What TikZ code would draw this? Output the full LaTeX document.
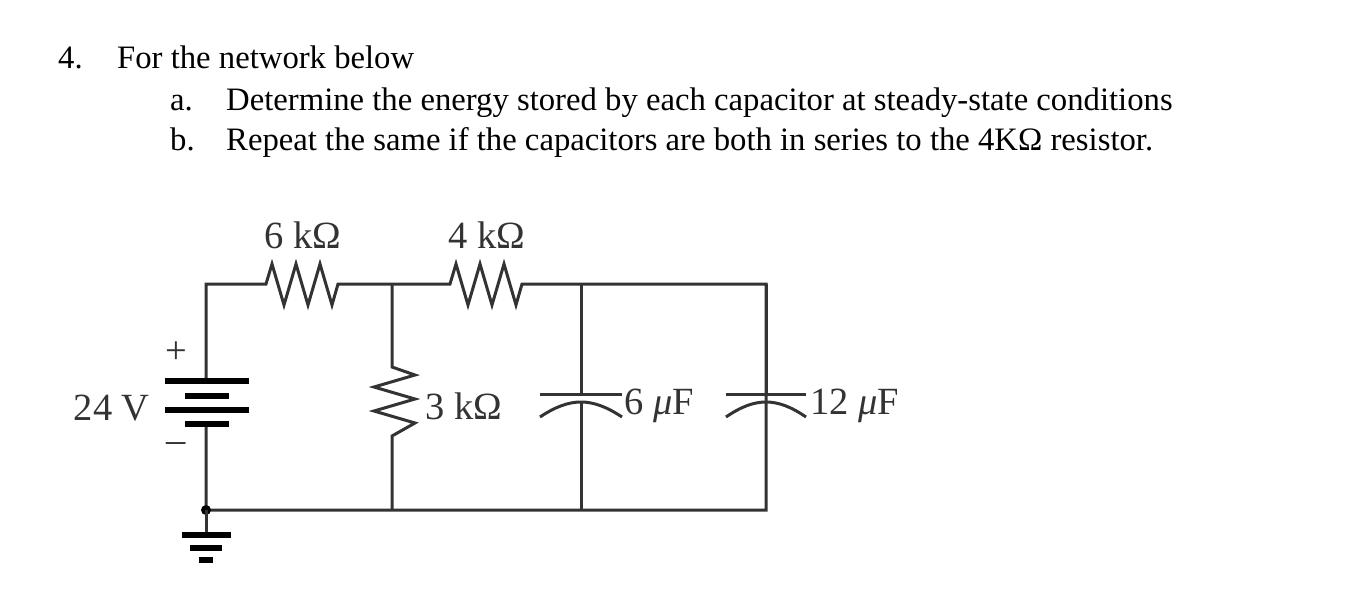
\documentclass[tikz,border=0pt]{standalone}
\usepackage{fontspec}
\setmainfont{Liberation Serif}
\begin{document}
\begin{tikzpicture}[x=1pt,y=-1pt,
  w/.style={line width=3pt,color=black!80,line join=miter},
  plate/.style={line width=6pt},
  txt/.style={inner sep=0pt,anchor=base west,font=\fontsize{32.7}{37}\selectfont},
  lbl/.style={inner sep=0pt,font=\fontsize{38.5}{43}\selectfont,text=black!80}]
\useasboundingbox (0,0) rectangle (1370,614);
% text
\node[txt] (n4) at (58,68) {4.};
\node[txt] (q) at (117,68) {For the network below};
\node[txt] (na) at (170,110) {a.};
\node[txt] (qa) at (226,110) {Determine the energy stored by each capacitor at steady-state conditions};
\node[txt] (nb) at (170,150) {b.};
\node[txt] (qb) at (226,150) {Repeat the same if the capacitors are both in series to the 4KΩ resistor.};
% coordinates
\coordinate (TL) at (206,284); \coordinate (BL) at (206,510);
\coordinate (TM) at (392,284); \coordinate (BM) at (392,510);
\coordinate (TC) at (581,284); \coordinate (BC) at (581,510);
\coordinate (TR) at (766,284); \coordinate (BR) at (766,510);
% top wire with resistors
\draw[w] (206,380) -- (TL) -- (266,284) -- (272,264) -- (284,305) -- (296,264) -- (308,305) -- (320,264) -- (332,305) -- (338,284) -- (TM) -- (450,284) -- (456,264) -- (468,305) -- (480,264) -- (492,305) -- (504,264) -- (516,305) -- (522,284) -- (TC) -- (TR) -- (BR) -- (BL) -- (206,424);
% 3k
\draw[w] (TM) -- (392,367) -- (415,375) -- (374,387) -- (415,399) -- (374,411) -- (415,423) -- (392,436) -- (BM);
% cap 1
\draw[w] (TC) -- (581,394) (540,394) -- (622,394);
\draw[w] (540,417) .. controls (570,397) and (592,397) .. (622,417);
\draw[w] (581,402) -- (BC);
% cap 2
\draw[w] (TR) -- (766,394) (726,394) -- (806,394);
\draw[w] (726,417) .. controls (755,397) and (777,397) .. (806,417);
% battery
\draw[plate] (165,381) -- (249,381) (185,396) -- (229,396) (165,410) -- (249,410) (185,424) -- (229,424);
% ground
\fill (BL) circle (5pt);
\draw[w] (BL) -- (206,535);
\draw[plate] (182,535) -- (231,535) (190,548) -- (222,548) (199,560) -- (213,560);
% labels
\node[lbl] (l6k) at (303,235) {6 kΩ};
\node[lbl] (l4k) at (487,235) {4 kΩ};
\node[lbl,anchor=west] (l3k) at (425,406) {3 kΩ};
\node[lbl,anchor=west] (l6u) at (624,406) {6 \textit{μ}F};
\node[lbl,anchor=west] (l12u) at (810,406) {12 \textit{μ}F};
\node[lbl,anchor=east] (l24) at (150,408) {24 V};
\node[lbl] (plus) at (176,353) {+};
\node[lbl] (minus) at (176,448) {\textendash};
\end{tikzpicture}
\end{document}
